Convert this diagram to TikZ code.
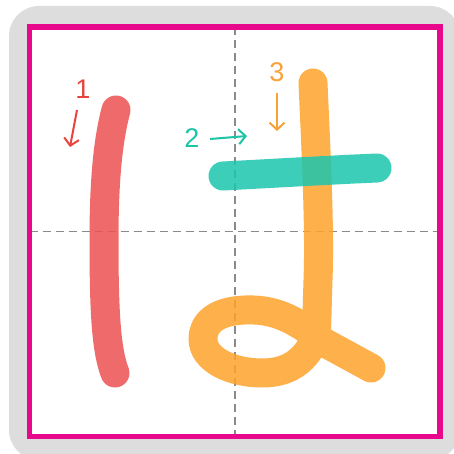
\documentclass[tikz,border=0pt]{standalone}
\usepackage{fontspec}
\setmainfont{Liberation Sans}
\usetikzlibrary{arrows.meta}

\definecolor{bggray}{HTML}{DDDDDD}
\definecolor{frame}{HTML}{E8088C}
\definecolor{guide}{HTML}{8A8A8A}
\definecolor{redink}{RGB}{237,82,82}
\definecolor{redtxt}{HTML}{E8433C}
\definecolor{tealink}{RGB}{28,198,175}
\definecolor{tealtxt}{HTML}{1CC4A8}
\definecolor{orangeink}{RGB}{254,164,44}
\definecolor{orangetxt}{HTML}{F9A23A}

\begin{document}
\begin{tikzpicture}[x=1pt, y=-1pt,
    brush/.style={line width=29pt, line cap=round, line join=round, opacity=0.85},
    num/.style={font=\fontsize{27}{27}\selectfont, inner sep=0pt},
    hint/.style={line width=2pt, -{Straight Barb[length=7pt,width=15pt]}}]
            \useasboundingbox (0,0) rectangle (453,454);
            \fill[white] (0,0) rectangle (453,454);
            \fill[bggray, rounded corners=30pt] (9,6) rectangle (460,460);
            \fill[white] (29.5,27) rectangle (440,436.5);
            % guide cross
            \coordinate (top) at (235,27);
            \coordinate (bot) at (235,436.5);
            \coordinate (lft) at (29.5,231.5);
            \coordinate (rgt) at (440,231.5);
            \draw[guide, line width=1.5pt, dash pattern=on 8pt off 5pt] (top) -- (bot);
            \draw[guide, line width=1.5pt, dash pattern=on 8pt off 5pt] (lft) -- (rgt);
            \draw[frame, line width=5.5pt] (29.5,27) rectangle (440,436.5);
            % strokes
            \draw[brush, redink] (116,110) .. controls (108,140) and (104,180) .. (104,240)
                .. controls (104,310) and (106,350) .. (115,373);
            \draw[brush, orangeink] (313,83) .. controls (316,150) and (320,230) .. (318,280)
                .. controls (317,310) and (317,325) .. (316,336)
                .. controls (290,316) and (270,309) .. (245,310)
                .. controls (216,311) and (203,323) .. (203,339)
                .. controls (203,360) and (232,373) .. (262,373)
                .. controls (292,373) and (306,358) .. (316,338)
                -- (371,368);
            \draw[brush, tealink] (223,176) .. controls (280,173) and (330,170) .. (377,168);
            % order hints
            \node[num, redtxt] (n1) at (83,89.5) {1};
            \node[num, tealtxt] (n2) at (192,138) {2};
            \node[num, orangetxt] (n3) at (277,72) {3};
            \coordinate (h1a) at (77,110);
            \coordinate (h1b) at (70,147);
            \coordinate (h2a) at (210,139);
            \coordinate (h2b) at (247,136);
            \coordinate (h3a) at (277,93);
            \coordinate (h3b) at (277,131);
            \draw[hint, redtxt] (h1a) -- (h1b);
            \draw[hint, tealtxt] (h2a) -- (h2b);
            \draw[hint, orangetxt] (h3a) -- (h3b);
        \end{tikzpicture}
\end{document}
